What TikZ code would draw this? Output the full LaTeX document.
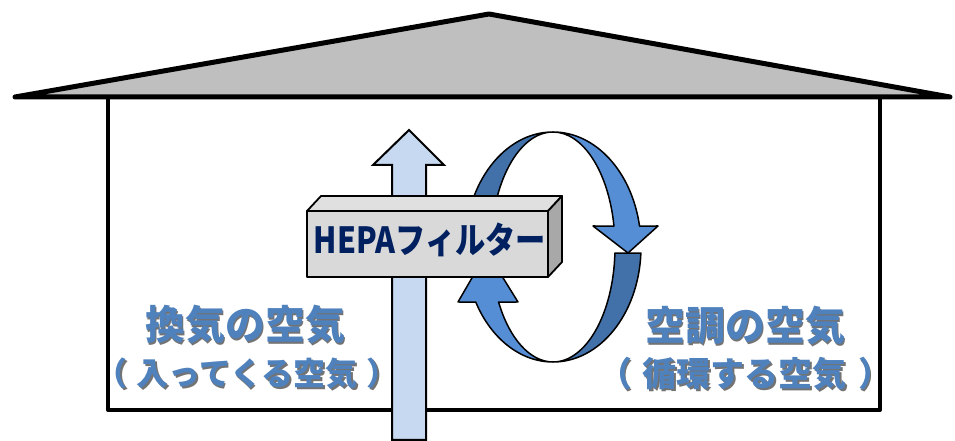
\documentclass[tikz,border=0pt]{standalone}
\usepackage{fontspec}
\newfontfamily\jpfont{Noto Sans CJK JP}
\usetikzlibrary{calc,positioning}
\definecolor{roofgrey}{RGB}{191,191,191}
\definecolor{airblue}{RGB}{198,217,241}
\definecolor{ringlight}{RGB}{85,142,213}
\definecolor{ringdark}{RGB}{66,113,170}
\definecolor{labelblue}{RGB}{79,129,189}
\definecolor{filtertext}{RGB}{0,32,96}
\definecolor{boxfront}{RGB}{217,217,217}
\definecolor{boxtop}{RGB}{224,224,224}
\definecolor{boxside}{RGB}{168,168,168}
% blue label with a soft grey drop shadow: name, position, size, text
\newcommand{\airlabel}[4]{%
  \node[text=black!55,font=\jpfont\bfseries\fontsize{#3}{#3}\selectfont] at ($#2+(1.8,-1.8)$) {#4};
  \node[text=labelblue,font=\jpfont\bfseries\fontsize{#3}{#3}\selectfont] (#1) at #2 {#4};}
% wider gap inside the brackets
\newcommand{\paren}[2]{（\hspace{#1}#2\hspace{#1}）}

\begin{document}
\begin{tikzpicture}[x=1pt,y=1pt]

\tikzset{wall/.style={line width=4pt,line join=round,line cap=round},
ring/.style={draw=black,line width=1.5pt,line join=round},
boxline/.style={draw=black,line width=1.8pt,line join=round},
airline/.style={draw=black,line width=2pt,line join=miter}}

\useasboundingbox (0,0) rectangle (955,441);

% House
\draw[wall] (108,344) -- (108,31) -- (880,31) -- (880,344);
\draw[line width=5pt,line join=round,line cap=round,fill=roofgrey] (15,344) -- (489,427) -- (950,344) -- cycle;

% Fresh air coming in
\draw[airline,fill=airblue] (392,1) -- (392,276) -- (373,276) -- (409,311) -- (444,276) -- (426,276) -- (426,1) -- cycle;

% Circulating air ring
\coordinate (rc) at (553,194);
\draw[ring,fill=ringdark] ($(rc)+(0,115)$) arc[start angle=90,end angle=180,x radius=88,y radius=115]
  -- ($(rc)+(-62,0)$) arc[start angle=180,end angle=90,x radius=62,y radius=115] -- cycle;
\draw[ring,fill=ringdark] ($(rc)+(-3:88 and 115)$) arc[start angle=-3,end angle=-90,x radius=88,y radius=115]
  arc[start angle=-90,end angle=-3,x radius=62,y radius=115] -- cycle;
\draw[ring,fill=ringlight] ($(rc)+(0,115)$) arc[start angle=90,end angle=10.5,x radius=88,y radius=115]
  -- (658,215) -- (628,188) -- (593,215) -- ($(rc)+(10.5:62 and 115)$)
  arc[start angle=10.5,end angle=90,x radius=62,y radius=115] -- cycle;
\draw[ring,fill=ringlight] ($(rc)+(0,-115)$) arc[start angle=270,end angle=208.6,x radius=88,y radius=115]
  -- (458,139) -- (487,189) -- (518,139) -- ($(rc)+(208.6:62 and 115)$)
  arc[start angle=208.6,end angle=270,x radius=62,y radius=115] -- cycle;

% Filter box
\draw[boxline,fill=boxfront] (307,164) rectangle (548,230);
\draw[boxline,fill=boxtop] (307,230) -- ++(14,15) -- ++(241,0) -- (548,230) -- cycle;
\draw[boxline,fill=boxside] (548,164) -- ++(14,15) -- ++(0,66) -- (548,230) -- cycle;
\node[text=filtertext,font=\jpfont\bfseries\fontsize{36}{36}\selectfont,xscale=0.84] (hepa) at (430,201) {HEPAフィルター};

% Labels
\airlabel{vent}{(245,116)}{40}{換気の空気}
\airlabel{ventsub}{(247,67)}{32}{\paren{9pt}{入ってくる空気}}
\airlabel{aircon}{(745,115)}{40}{空調の空気}
\airlabel{airconsub}{(745,67)}{34}{\paren{11pt}{循環する空気}}

\end{tikzpicture}
\end{document}
